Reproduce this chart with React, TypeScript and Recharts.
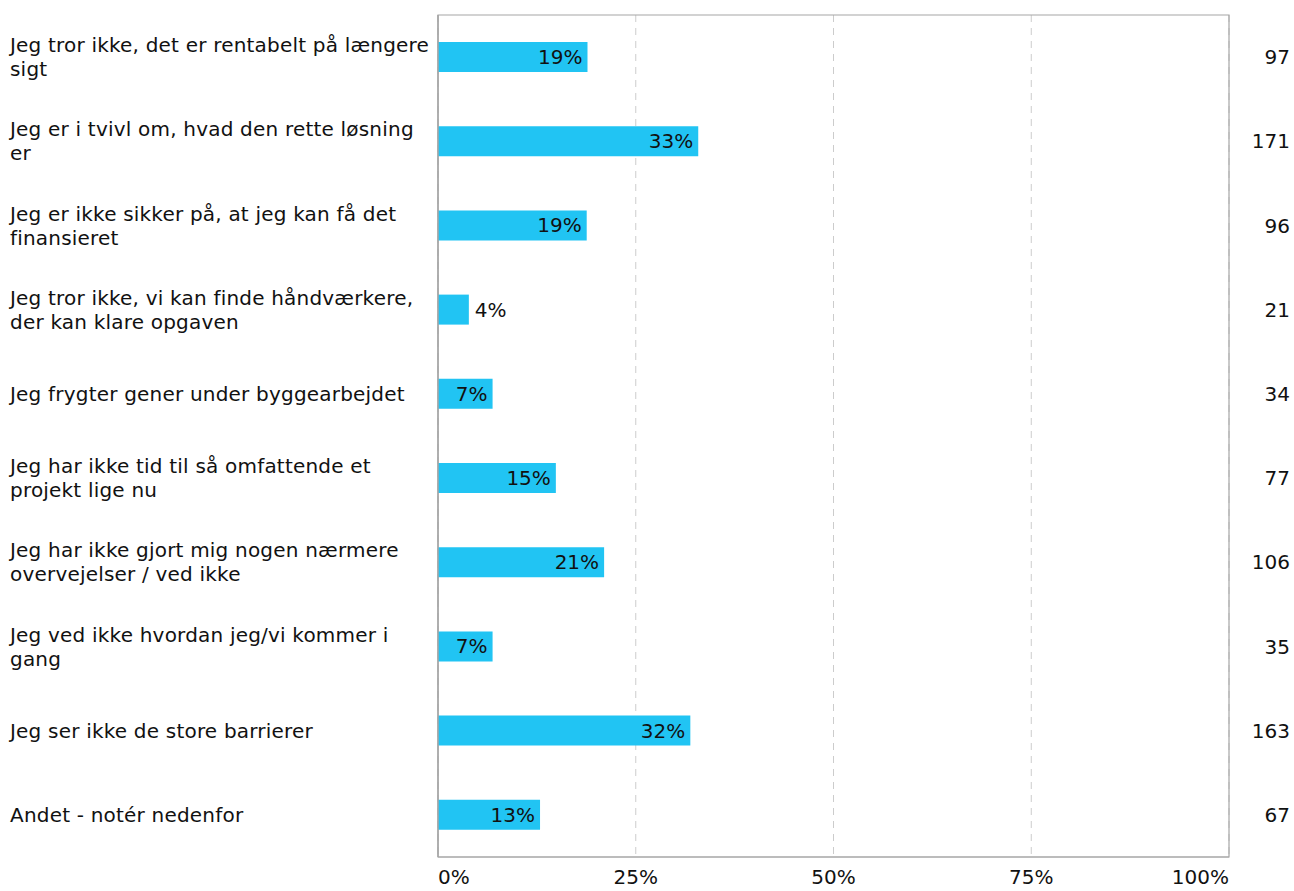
import React from 'react';
import { BarChart, Bar, XAxis, YAxis, CartesianGrid, LabelList, ReferenceArea } from 'recharts';

// survey answers (line breaks as in the original chart)
const categories = [
  'Jeg tror ikke, det er rentabelt på længere\nsigt',
  'Jeg er i tvivl om, hvad den rette løsning\ner',
  'Jeg er ikke sikker på, at jeg kan få det\nfinansieret',
  'Jeg tror ikke, vi kan finde håndværkere,\nder kan klare opgaven',
  'Jeg frygter gener under byggearbejdet',
  'Jeg har ikke tid til så omfattende et\nprojekt lige nu',
  'Jeg har ikke gjort mig nogen nærmere\novervejelser / ved ikke',
  'Jeg ved ikke hvordan jeg/vi kommer i\ngang',
  'Jeg ser ikke de store barrierer',
  'Andet - notér nedenfor',
];
const shares = [18.9, 32.9, 18.8, 3.9, 6.9, 14.9, 21.0, 6.9, 31.9, 12.9];
const counts = [97, 171, 96, 21, 34, 77, 106, 35, 163, 67];
const xTicks = [0, 25, 50, 75, 100];

const data = categories.map((label, i) => ({
  label,
  share: shares[i],
  count: counts[i],
}));

const FONT = 'Verdana, "DejaVu Sans", sans-serif';
const FS = 20;
const LS = 0.2;
const BORDER = '#a6a6a6';

const CategoryTick = (props: any) => {
  const lines: string[] = String(props.payload.value).split('\n');
  const lh = 24;
  const startY = props.y - ((lines.length - 1) * lh) / 2;
  return (
    <text x={10} y={startY} fontFamily={FONT} fontSize={FS} letterSpacing={LS} fill="#111" dominantBaseline="central">
      {lines.map((l, i) => (
        <tspan key={i} x={10} y={startY + i * lh}>{l}</tspan>
      ))}
    </text>
  );
};

const CountTick = (props: any) => (
  <text x={1290} y={props.y} textAnchor="end" dominantBaseline="central" fontFamily={FONT} fontSize={FS} fill="#111">
    {counts[props.index]}
  </text>
);

const PctTick = (props: any) => {
  const v = props.payload.value;
  const anchor = v === 0 ? 'start' : v === 100 ? 'end' : 'middle';
  return (
    <text x={props.x} y={props.y + 19} textAnchor={anchor} fontFamily={FONT} fontSize={FS} fill="#111">
      {v}%
    </text>
  );
};

const BarLabel = (props: any) => {
  const { x, y, width, height, value } = props;
  const inside = width > 40;
  return (
    <text
      x={inside ? x + width - 5 : x + width + 6}
      y={y + height / 2}
      textAnchor={inside ? 'end' : 'start'}
      dominantBaseline="central"
      fontFamily={FONT}
      fontSize={FS}
      fill="#111"
    >
      {Math.round(value)}%
    </text>
  );
};

export default function App() {
  return (
    <div style={{ position: 'absolute', left: 0, top: 0, width: 1294, height: 891, background: '#fff' }}>
      <BarChart
        width={1294}
        height={891}
        data={data}
        layout="vertical"
        margin={{ top: 15, right: 0, bottom: 0, left: 0 }}
        barCategoryGap={0}
      >
        <CartesianGrid horizontal={false} vertical stroke="#cccccc" strokeDasharray="7 6" />
        <XAxis
          type="number"
          domain={[0, 100]}
          ticks={xTicks}
          interval={0}
          height={34}
          axisLine={{ stroke: BORDER }}
          tickLine={false}
          tick={<PctTick />}
        />
        <YAxis
          type="category"
          dataKey="label"
          width={438}
          interval={0}
          axisLine={{ stroke: BORDER, strokeWidth: 1.5 }}
          tickLine={false}
          tick={<CategoryTick />}
        />
        <YAxis
          yAxisId="right"
          orientation="right"
          type="category"
          dataKey="label"
          width={65}
          interval={0}
          axisLine={false}
          tickLine={false}
          tick={<CountTick />}
        />
        <Bar dataKey="share" fill="#21c4f3" barSize={30} isAnimationActive={false}>
          <LabelList dataKey="share" content={<BarLabel />} />
        </Bar>
        <ReferenceArea x1={0} x2={100} fill="none" stroke={BORDER} strokeWidth={1.2} ifOverflow="visible" />
      </BarChart>
    </div>
  );
}
